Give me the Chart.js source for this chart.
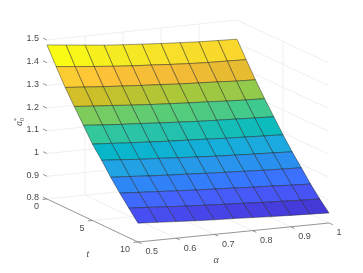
<!DOCTYPE html>
<html>
<head>
<meta charset="utf-8">
<title>Superficie</title>
<script src="https://cdn.jsdelivr.net/npm/chart.js@4"></script>
<style>
  body { margin: 0; background: #fff; }
</style>
</head>
<body>
<canvas id="superficie" width="363" height="273"></canvas>
<script>
// Datos de la superficie
const alphaValues = [0.5, 0.55, 0.6, 0.65, 0.7, 0.75, 0.8, 0.85, 0.9, 0.95, 1];
const tValues = [0, 1, 2, 3, 4, 5, 6, 7, 8, 9, 10];
const zT0 = [1.478, 1.469, 1.460, 1.451, 1.444, 1.438, 1.432, 1.427, 1.422, 1.419, 1.416];
const zT1 = [1.402, 1.393, 1.385, 1.377, 1.370, 1.365, 1.359, 1.354, 1.350, 1.348, 1.345];
const zT2 = [1.329, 1.322, 1.315, 1.309, 1.303, 1.298, 1.292, 1.288, 1.284, 1.279, 1.276];
const zT3 = [1.264, 1.257, 1.251, 1.244, 1.238, 1.233, 1.228, 1.224, 1.219, 1.215, 1.212];
const zT4 = [1.200, 1.193, 1.187, 1.182, 1.176, 1.171, 1.166, 1.162, 1.159, 1.155, 1.152];
const zT5 = [1.136, 1.131, 1.125, 1.120, 1.115, 1.111, 1.107, 1.102, 1.099, 1.095, 1.092];
const zT6 = [1.084, 1.078, 1.071, 1.067, 1.061, 1.056, 1.051, 1.047, 1.043, 1.040, 1.036];
const zT7 = [1.028, 1.023, 1.017, 1.012, 1.008, 1.003, 0.999, 0.995, 0.991, 0.988, 0.985];
const zT8 = [0.977, 0.972, 0.967, 0.962, 0.957, 0.953, 0.949, 0.944, 0.941, 0.936, 0.933];
const zT9 = [0.930, 0.925, 0.919, 0.914, 0.909, 0.905, 0.901, 0.896, 0.893, 0.889, 0.886];
const zT10 = [0.883, 0.878, 0.873, 0.868, 0.864, 0.861, 0.857, 0.853, 0.850, 0.847, 0.844];
const zRows = [zT0, zT1, zT2, zT3, zT4, zT5, zT6, zT7, zT8, zT9, zT10];

// Marcas de los ejes
const alphaTicks = [0.5, 0.6, 0.7, 0.8, 0.9, 1];
const alphaTickLabels = ['0.5', '0.6', '0.7', '0.8', '0.9', '1'];
const tTicks = [0, 5, 10];
const tTickLabels = ['0', '5', '10'];
const zTicks = [0.8, 0.9, 1, 1.1, 1.2, 1.3, 1.4, 1.5];
const zTickLabels = ['0.8', '0.9', '1', '1.1', '1.2', '1.3', '1.4', '1.5'];

// Mapa de color parula
const parula = [
  [62, 38, 168], [67, 50, 203], [71, 65, 229], [72, 82, 244],
  [69, 99, 253], [56, 117, 254], [46, 135, 247], [39, 150, 235],
  [32, 165, 227], [18, 177, 214], [2, 186, 195], [36, 193, 174],
  [55, 200, 151], [87, 204, 122], [129, 204, 89], [171, 199, 57],
  [209, 191, 39], [240, 186, 54], [254, 195, 56], [250, 214, 45],
  [245, 233, 36], [249, 251, 21]
];

// Esquinas de la caja 3D en pixeles de la ventana
const boxCorners = {
  a0t0z0: [47, 199], a0t0z1: [47, 40],
  a1t0z0: [237, 180], a1t0z1: [237, 20],
  a0t1z0: [138, 242], a0t1z1: [138, 83],
  a1t1z0: [329, 223], a1t1z1: [329, 63]
};

function project(alpha, t, z) {
  const u = (alpha - 0.5) / 0.5, v = t / 10, w = (z - 0.8) / 0.7;
  const mix = k => {
    const c = boxCorners;
    const low = (1 - u) * ((1 - v) * c.a0t0z0[k] + v * c.a0t1z0[k]) + u * ((1 - v) * c.a1t0z0[k] + v * c.a1t1z0[k]);
    const high = (1 - u) * ((1 - v) * c.a0t0z1[k] + v * c.a0t1z1[k]) + u * ((1 - v) * c.a1t0z1[k] + v * c.a1t1z1[k]);
    return (1 - w) * low + w * high;
  };
  return { x: mix(0), y: mix(1) };
}

function colorFor(z) {
  const all = zRows.flat();
  const zMin = Math.min(...all), zMax = Math.max(...all);
  const s = (z - zMin) / (zMax - zMin) * (parula.length - 1);
  const i = Math.min(Math.floor(s), parula.length - 2), f = s - i;
  const c = parula[i].map((v, k) => Math.round(v + (parula[i + 1][k] - v) * f));
  return `rgb(${c[0]}, ${c[1]}, ${c[2]})`;
}

function lineSet(from, to, color, width) {
  return {
    data: [project(...from), project(...to)],
    showLine: true,
    borderColor: color,
    borderWidth: width,
    pointRadius: 0,
    fill: false
  };
}

// Celdas de la superficie (el primer dataset queda encima)
const datasets = [];
for (let i = tValues.length - 2; i >= 0; i--) {
  for (let j = 0; j < alphaValues.length - 1; j++) {
    const a0 = alphaValues[j], a1 = alphaValues[j + 1], t0 = tValues[i], t1 = tValues[i + 1];
    datasets.push({
      data: [
        project(a0, t0, zRows[i][j]),
        project(a1, t0, zRows[i][j + 1]),
        project(a1, t1, zRows[i + 1][j + 1]),
        project(a0, t1, zRows[i + 1][j]),
        project(a0, t0, zRows[i][j])
      ],
      showLine: true,
      fill: 'shape',
      backgroundColor: colorFor(zRows[i][j]),
      borderColor: 'rgba(25, 25, 25, 0.72)',
      borderWidth: 0.6,
      pointRadius: 0
    });
  }
}

// Ejes y marcas
const axisColor = '#7a7a7a';
datasets.push(lineSet([0.5, 0, 0.8], [0.5, 10, 0.8], axisColor, 0.8));
datasets.push(lineSet([0.5, 10, 0.8], [1, 10, 0.8], axisColor, 0.8));
alphaTicks.forEach(a => datasets.push(lineSet([a, 10, 0.8], [a, 10.4, 0.8], axisColor, 0.8)));
tTicks.forEach(t => datasets.push(lineSet([0.5, t, 0.8], [0.488, t, 0.8], axisColor, 0.8)));
zTicks.forEach(z => datasets.push(lineSet([0.5, 0, z], [0.5, -0.44, z], axisColor, 0.8)));

// Rejilla de fondo
const gridColor = '#ebebeb';
zTicks.forEach(z => {
  datasets.push(lineSet([0.5, 0, z], [1, 0, z], gridColor, 0.8));
  datasets.push(lineSet([1, 0, z], [1, 10, z], gridColor, 0.8));
});
alphaTicks.slice(1, -1).forEach(a => {
  datasets.push(lineSet([a, 0, 0.8], [a, 0, 1.5], gridColor, 0.8));
  datasets.push(lineSet([a, 0, 0.8], [a, 10, 0.8], gridColor, 0.8));
});
datasets.push(lineSet([0.5, 5, 0.8], [1, 5, 0.8], gridColor, 0.8));
datasets.push(lineSet([1, 5, 0.8], [1, 5, 1.5], gridColor, 0.8));

// Textos de los ejes
const axisText = {
  id: 'axisText',
  afterDraw(chart) {
    const { ctx, scales } = chart;
    const px = p => scales.x.getPixelForValue(p.x);
    const py = p => scales.y.getPixelForValue(p.y);
    ctx.save();
    ctx.fillStyle = '#4a4a4a';
    ctx.textBaseline = 'middle';
    ctx.font = '9px "Liberation Sans", Arial, sans-serif';
    ctx.textAlign = 'right';
    zTicks.forEach((z, i) => {
      const p = project(0.5, 0, z);
      ctx.fillText(zTickLabels[i], px(p) - 8, py(p) - 1);
    });
    tTicks.forEach((t, i) => {
      const p = project(0.5, t, 0.8);
      ctx.fillText(tTickLabels[i], px(p) - 8, py(p) + 8);
    });
    ctx.textAlign = 'left';
    alphaTicks.forEach((a, i) => {
      const p = project(a, 10, 0.8);
      ctx.fillText(alphaTickLabels[i], px(p) + 7.5, py(p) + 10);
    });

    ctx.textAlign = 'center';
    ctx.font = 'italic 10px "Liberation Serif", serif';
    ctx.fillText('α', 216, 260);
    ctx.fillText('t', 88, 254);

    ctx.translate(19, 121);
    ctx.rotate(-Math.PI / 2);
    ctx.textAlign = 'left';
    ctx.fillText('a', -5, 0);
    ctx.font = '6px "Liberation Serif", serif';
    ctx.fillText('0', 0, 3);
    ctx.fillText('*', 0, -3);
    ctx.restore();
  }
};

// Dibujar superficie
const ctx = document.getElementById('superficie').getContext('2d');
new Chart(ctx, {
  type: 'scatter',
  data: { datasets },
  plugins: [axisText],
  options: {
    responsive: false,
    animation: false,
    layout: { padding: 0 },
    plugins: { legend: { display: false }, tooltip: { enabled: false } },
    scales: {
      x: { type: 'linear', min: 0, max: 363, display: false },
      y: { type: 'linear', min: 0, max: 273, reverse: true, display: false }
    }
  }
});
</script>
</body>
</html>
